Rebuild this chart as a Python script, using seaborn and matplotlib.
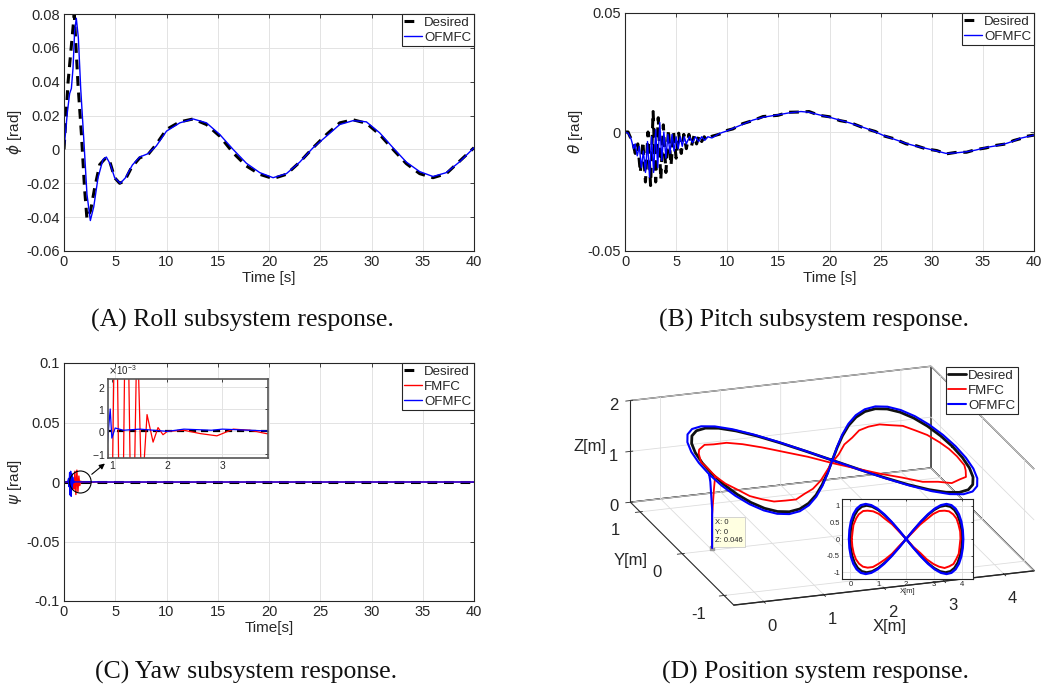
import numpy as np
import pandas as pd
import matplotlib
matplotlib.use("Agg")
import matplotlib.pyplot as plt
import seaborn as sns
from matplotlib import ticker
from matplotlib.patches import Ellipse

# ---------------- data ----------------
roll_des_t = [0, 0.2, 0.4, 0.7, 1.0, 1.37, 1.7, 2.0, 2.24, 2.6, 3.0, 3.48, 4.07, 4.46, 4.94, 5.43,
              5.92, 6.57, 7.38, 8.2, 9.0, 10.0, 11.3, 12.6, 13.9, 15.2, 16.5, 17.8, 19.1, 20.4,
              21.7, 23.0, 24.3, 25.6, 26.9, 28.2, 29.5, 30.8, 32.1, 33.4, 34.7, 36.0, 37.3, 38.6, 40.0]
roll_des = [0, 0.02, 0.04, 0.06, 0.08, 0.038, 0.009, -0.0225, -0.041, -0.036, -0.0225, -0.009, -0.005,
            -0.007, -0.0167, -0.020, -0.0186, -0.0108, -0.005, -0.003, 0.003, 0.0118, 0.0163, 0.018,
            0.0147, 0.0078, -0.002, -0.0098, -0.0147, -0.0172, -0.0147, -0.0075, 0.001, 0.0088,
            0.0157, 0.0175, 0.0155, 0.0088, 0.0, -0.0084, -0.0143, -0.0167, -0.0143, -0.0069, 0.001]
roll_ofmfc_t = [0, 0.33, 0.55, 0.72, 0.88, 1.04, 1.2, 1.4, 1.63, 1.92, 2.24, 2.57, 2.9, 3.32, 3.8,
                4.13, 4.52, 4.94, 5.5, 6.0, 6.67, 7.38, 8.2, 9.0, 10.0, 11.3, 12.6, 13.9, 15.2, 16.5,
                17.8, 19.1, 20.4, 21.7, 23.0, 24.3, 25.6, 26.9, 28.2, 29.5, 30.8, 32.1, 33.4, 34.7,
                36.0, 37.3, 38.6, 40.0]
roll_ofmfc = [0, 0.022, 0.033, 0.036, 0.048, 0.07, 0.0775, 0.066, 0.036, 0.007, -0.0265, -0.042,
              -0.034, -0.0167, -0.006, -0.0045, -0.0088, -0.0167, -0.020, -0.0167, -0.0092, -0.0045,
              -0.0025, 0.002, 0.0108, 0.0157, 0.018, 0.0157, 0.0088, 0.0, -0.0082, -0.0137, -0.0167,
              -0.0143, -0.0075, 0.001, 0.0078, 0.0147, 0.017, 0.0163, 0.0098, 0.001, -0.0075, -0.0131,
              -0.016, -0.0137, -0.0073, 0.001]

pitch_des_t = [0, 0.3, 0.5, 0.75, 1.0, 1.25, 1.5, 1.75, 2.0, 2.25, 2.5, 2.75, 3.0, 3.25, 3.5, 3.75,
               4.0, 4.25, 4.5, 4.75, 5.0, 5.25, 5.5, 5.75, 6.0, 6.25, 6.5, 6.75, 7.0, 7.25, 7.5, 7.75,
               8.0, 8.5, 9.25, 10.0, 10.55, 11.5, 12.5, 13.5, 14.95, 16.0, 17.2, 18.0, 19.0, 20.0,
               21.0, 22.0, 23.6, 24.5, 25.2, 26.3, 27.5, 28.5, 29.45, 30.5, 31.4, 32.3, 33.4, 34.3,
               35.3, 36.3, 37.3, 38.0, 38.6, 39.3, 40.0]
pitch_des = [0, 0.0, -0.002, -0.004, -0.009, -0.005, -0.017, -0.004, -0.021, 0.0, -0.0225, 0.0086,
             -0.021, 0.006, -0.020, 0.003, -0.017, 0.001, -0.014, 0.0, -0.011, -0.0005, -0.009, -0.001,
             -0.007, -0.001, -0.006, -0.0015, -0.005, -0.0015, -0.004, -0.002, -0.0035, -0.0018,
             -0.0009, 0.0007, 0.0013, 0.0035, 0.0048, 0.0065, 0.0070, 0.0083, 0.0084, 0.0086, 0.0070,
             0.0064, 0.0048, 0.0040, 0.0013, 0.0002, -0.0015, -0.0028, -0.0050, -0.0058, -0.0071,
             -0.0078, -0.0092, -0.0086, -0.0085, -0.0074, -0.0067, -0.0056, -0.0050, -0.0036,
             -0.0029, -0.0018, -0.0013]
pitch_ofmfc_t = [0, 0.3, 0.6, 0.85, 1.0, 1.2, 1.4, 1.6, 1.8, 2.0, 2.2, 2.4, 2.6, 2.8, 3.0, 3.2, 3.4,
                 3.6, 3.8, 4.0, 4.2, 4.4, 4.6, 4.8, 5.0, 5.2, 5.4, 5.6, 5.8, 6.0, 6.3, 6.6, 6.9, 7.2,
                 7.5, 7.8, 8.1, 8.5, 9.25, 10.0, 10.55, 11.5, 12.5, 13.5, 14.95, 16.0, 17.2, 18.0,
                 19.0, 20.0, 21.0, 22.0, 23.6, 24.5, 25.2, 26.3, 27.5, 28.5, 29.45, 30.5, 31.4, 32.3,
                 33.4, 34.3, 35.3, 36.3, 37.3, 38.0, 38.6, 39.3, 40.0]
pitch_ofmfc = [0, -0.0005, -0.003, -0.007, -0.005, -0.010, -0.006, -0.015, -0.008, -0.017, -0.004,
               -0.019, -0.002, -0.017, 0.001, -0.015, 0.004, -0.012, 0.0, -0.011, -0.001, -0.009,
               -0.001, -0.008, -0.002, -0.007, -0.002, -0.006, -0.002, -0.005, -0.002, -0.0045,
               -0.002, -0.004, -0.002, -0.0035, -0.002, -0.0025, -0.0006, 0.0005, 0.0015, 0.0032,
               0.005, 0.0062, 0.0072, 0.008, 0.0086, 0.0083, 0.0072, 0.0062, 0.005, 0.0038, 0.0015,
               0.0, -0.0013, -0.003, -0.0048, -0.006, -0.0069, -0.008, -0.009, -0.0088, -0.0083,
               -0.0076, -0.0065, -0.0058, -0.0048, -0.0038, -0.0027, -0.002, -0.0013]

yaw_des_t = [0, 40]
yaw_des = [0, 0]
yaw_fmfc_t = [0, 0.9, 0.98, 1.06, 1.16, 1.255, 1.36, 1.45, 1.535, 1.63, 1.74, 1.83, 1.92, 2.0,
              2.3, 2.6, 2.9, 3.2, 3.5, 3.8, 40]
yaw_fmfc = [0, 0, -0.006, 0.009, -0.0105, 0.010, -0.008, 0.005, -0.003, 0.00075, -0.00048,
            0.00017, -0.00015, 0.0, 0.00005, -0.0001, -0.0002, 0.0001, 0.00005, -0.0001, 0]
yaw_ofmfc_t = [0, 0.35, 0.45, 0.5, 0.55, 0.6, 0.65, 0.7, 0.75, 0.8, 0.85, 0.9, 0.96, 0.99, 1.05,
               1.2, 1.5, 2.0, 2.3, 2.8, 3.0, 3.5, 4.0, 40]
yaw_ofmfc = [0, 0, 0.003, -0.004, 0.008, -0.011, 0.009, -0.012, 0.007, -0.006, 0.004, -0.0008,
             0.001, -0.0003, 0.00015, 0.00005, 0.0001, 0.0, 0.0001, 0.00005, 0.0001, 0.00005, 0, 0]

# figure-eight trajectories (x, y in m); desired flies at a constant altitude
traj_des_x = [4.0, 3.983, 3.932, 3.848, 3.732, 3.587, 3.414, 3.218, 3.0, 2.765, 2.518, 2.261, 2.0,
              1.739, 1.482, 1.235, 1.0, 0.782, 0.586, 0.413, 0.268, 0.152, 0.068, 0.017, 0.0,
              0.017, 0.068, 0.152, 0.268, 0.413, 0.586, 0.782, 1.0, 1.235, 1.482, 1.739, 2.0,
              2.261, 2.518, 2.765, 3.0, 3.218, 3.414, 3.587, 3.732, 3.848, 3.932, 3.983, 4.0]
traj_des_y = [0.0, 0.259, 0.5, 0.707, 0.866, 0.966, 1.0, 0.966, 0.866, 0.707, 0.5, 0.259, 0.0,
              -0.259, -0.5, -0.707, -0.866, -0.966, -1.0, -0.966, -0.866, -0.707, -0.5, -0.259, 0.0,
              0.259, 0.5, 0.707, 0.866, 0.966, 1.0, 0.966, 0.866, 0.707, 0.5, 0.259, 0.0,
              -0.259, -0.5, -0.707, -0.866, -0.966, -1.0, -0.966, -0.866, -0.707, -0.5, -0.259, 0.0]
traj_des_altitude = 1.5

takeoff_ofmfc_x = [0.0, 0.0, -0.03]
takeoff_ofmfc_y = [0.0, 0.0, 0.0]
takeoff_ofmfc_z = [0.046, 0.8, 1.35]
traj_ofmfc_x = [-0.05, -0.032, 0.020, 0.106, 0.225, 0.374, 0.550, 0.752, 0.975, 1.215, 1.469, 1.732,
                2.0, 2.268, 2.531, 2.785, 3.025, 3.248, 3.450, 3.626, 3.775, 3.894, 3.980, 4.032,
                4.05, 4.032, 3.980, 3.894, 3.775, 3.626, 3.450, 3.248, 3.025, 2.785, 2.531, 2.268,
                2.0, 1.732, 1.469, 1.215, 0.975, 0.752, 0.550, 0.374, 0.225, 0.106, 0.020, -0.032,
                -0.05]
traj_ofmfc_y = [0.0, 0.272, 0.525, 0.742, 0.909, 1.014, 1.05, 1.014, 0.909, 0.742, 0.525, 0.272,
                0.0, -0.272, -0.525, -0.742, -0.909, -1.014, -1.05, -1.014, -0.909, -0.742, -0.525,
                -0.272, 0.0, 0.272, 0.525, 0.742, 0.909, 1.014, 1.05, 1.014, 0.909, 0.742, 0.525,
                0.272, 0.0, -0.272, -0.525, -0.742, -0.909, -1.014, -1.05, -1.014, -0.909, -0.742,
                -0.525, -0.272, 0.0]
traj_ofmfc_altitude = 1.5

takeoff_fmfc_x = [0.0, 0.0, 0.03]
takeoff_fmfc_y = [0.0, 0.0, 0.0]
takeoff_fmfc_z = [0.046, 0.7, 1.2]
traj_fmfc_x = [0.05, 0.08, 0.11, 0.21, 0.30, 0.46, 0.62, 0.82, 1.03, 1.25, 1.50, 1.75, 2.01, 2.25,
               2.51, 2.74, 2.98, 3.18, 3.38, 3.55, 3.70, 3.80, 3.89, 3.92, 3.95, 3.94, 3.88, 3.81,
               3.69, 3.54, 3.38, 3.19, 2.97, 2.75, 2.50, 2.26, 2.00, 1.74, 1.50, 1.25, 1.02, 0.81,
               0.62, 0.45, 0.31, 0.20, 0.12, 0.07, 0.05]
traj_fmfc_y = [0.0, 0.23, 0.42, 0.62, 0.74, 0.84, 0.85, 0.83, 0.75, 0.60, 0.44, 0.22, 0.0, -0.23,
               -0.42, -0.61, -0.75, -0.83, -0.87, -0.82, -0.75, -0.60, -0.44, -0.22, 0.01, 0.22,
               0.43, 0.61, 0.74, 0.83, 0.85, 0.84, 0.75, 0.60, 0.43, 0.22, 0.0, -0.22, -0.44, -0.61,
               -0.74, -0.84, -0.86, -0.83, -0.74, -0.61, -0.43, -0.22, 0.0]
traj_fmfc_z = [1.45, 1.42, 1.37, 1.36, 1.33, 1.32, 1.30, 1.32, 1.33, 1.36, 1.37, 1.42, 1.44, 1.49,
               1.51, 1.56, 1.56, 1.60, 1.58, 1.59, 1.56, 1.55, 1.51, 1.50, 1.45, 1.41, 1.39, 1.34,
               1.34, 1.30, 1.32, 1.31, 1.34, 1.35, 1.39, 1.40, 1.46, 1.48, 1.53, 1.54, 1.58, 1.58,
               1.60, 1.58, 1.57, 1.54, 1.53, 1.48, 1.45]
datatip_xyz = [0, 0, 0.046]

yaw_zoom_center = (1.6, 0.0)
yaw_arrow_from = (2.5, 0.005)
yaw_arrow_to = (4.2, 0.017)

# ---------------- style ----------------
sns.set_theme(style="whitegrid")
plt.rcParams.update({
    "font.family": ["Liberation Sans", "DejaVu Sans"],
    "axes.unicode_minus": False,
    "axes.edgecolor": "#262626",
    "axes.linewidth": 0.8,
    "grid.color": "#e3e3e3",
    "grid.linewidth": 0.7,
    "xtick.color": "#262626",
    "ytick.color": "#262626",
    "xtick.labelcolor": "#262626",
    "ytick.labelcolor": "#262626",
    "axes.labelcolor": "#262626",
    "xtick.direction": "in",
    "ytick.direction": "in",
    "xtick.major.size": 3,
    "ytick.major.size": 3,
    "xtick.major.width": 0.6,
    "ytick.major.width": 0.6,
    "xtick.major.pad": 3,
    "ytick.major.pad": 3,
    "axes.facecolor": "white",
})

W, H = 1044, 691
fig = plt.figure(figsize=(W / 100, H / 100), dpi=100)


def rect(l, t, r, b):
    return [l / W, 1 - b / H, (r - l) / W, (b - t) / H]


fmt_g = ticker.FuncFormatter(lambda v, p: "%g" % round(v, 6))
leg_kw = dict(fontsize=9.5, frameon=True, fancybox=False, framealpha=1, edgecolor="#262626",
              borderpad=0.2, labelspacing=0.2, handlelength=1.3, handletextpad=0.2)


def style_ax(ax, fs=10.5):
    ax.tick_params(which="both", top=True, right=True, labelsize=fs, length=3)
    for s in ax.spines.values():
        s.set_visible(True)
        s.set_color("#262626")
        s.set_linewidth(0.8)
    ax.grid(True, color="#e3e3e3", linewidth=0.7)


def fix_dash_handle(leg):
    for h, t in zip(leg.legend_handles, leg.get_texts()):
        if t.get_text() == "Desired":
            h.set_linestyle((0, (3.2, 8)))


def mlegend(ax):
    leg = ax.legend(loc="upper right", borderaxespad=0.0, **leg_kw)
    leg.get_frame().set_linewidth(0.8)
    fix_dash_handle(leg)
    return leg


dash = (0, (3.2, 2.2))

# ---------- (A) Roll ----------
axA = fig.add_axes(rect(64, 14, 474, 251))
sns.lineplot(x=roll_des_t, y=roll_des, ax=axA, color="black", lw=2.2, linestyle=dash,
             sort=False, estimator=None, label="Desired")
sns.lineplot(x=roll_ofmfc_t, y=roll_ofmfc, ax=axA, color="#0000ff", lw=1.0,
             sort=False, estimator=None, label="OFMFC")
axA.set_xlim(0, 40)
axA.set_ylim(-0.06, 0.08)
axA.set_xticks(range(0, 41, 5))
axA.set_yticks([-0.06, -0.04, -0.02, 0, 0.02, 0.04, 0.06, 0.08])
axA.yaxis.set_major_formatter(fmt_g)
axA.set_xlabel("Time [s]", fontsize=11, labelpad=1)
axA.set_ylabel(r"$\phi$ [rad]", fontsize=11, labelpad=2)
style_ax(axA)
mlegend(axA)

# ---------- (B) Pitch ----------
axB = fig.add_axes(rect(625, 13, 1034, 251))
sns.lineplot(x=pitch_des_t, y=pitch_des, ax=axB, color="black", lw=2.2, linestyle=dash,
             sort=False, estimator=None, label="Desired")
sns.lineplot(x=pitch_ofmfc_t, y=pitch_ofmfc, ax=axB, color="#0000ff", lw=1.0,
             sort=False, estimator=None, label="OFMFC")
axB.set_xlim(0, 40)
axB.set_ylim(-0.05, 0.05)
axB.set_xticks(range(0, 41, 5))
axB.set_yticks([-0.05, 0, 0.05])
axB.yaxis.set_major_formatter(fmt_g)
axB.set_xlabel("Time [s]", fontsize=11, labelpad=1)
axB.set_ylabel(r"$\theta$ [rad]", fontsize=11, labelpad=2)
style_ax(axB)
mlegend(axB)

# ---------- (C) Yaw ----------
axC = fig.add_axes(rect(64, 363, 474, 601))
sns.lineplot(x=yaw_des_t, y=yaw_des, ax=axC, color="black", lw=2.2, linestyle=dash,
             sort=False, estimator=None, label="Desired")
sns.lineplot(x=yaw_fmfc_t, y=yaw_fmfc, ax=axC, color="#ff0000", lw=1.0,
             sort=False, estimator=None, label="FMFC")
sns.lineplot(x=yaw_ofmfc_t, y=yaw_ofmfc, ax=axC, color="#0000ff", lw=1.0,
             sort=False, estimator=None, label="OFMFC")
axC.set_xlim(0, 40)
axC.set_ylim(-0.1, 0.1)
axC.set_xticks(range(0, 41, 5))
axC.set_yticks([-0.1, -0.05, 0, 0.05, 0.1])
axC.yaxis.set_major_formatter(fmt_g)
axC.set_xlabel("Time[s]", fontsize=11, labelpad=1)
axC.set_ylabel(r"$\psi$ [rad]", fontsize=11, labelpad=2)
style_ax(axC)
mlegend(axC)
axC.add_patch(Ellipse(yaw_zoom_center, width=2.1, height=0.0185, fill=False,
                      edgecolor="black", lw=0.8, zorder=5))
axC.annotate("", xy=yaw_arrow_to, xytext=yaw_arrow_from,
             arrowprops=dict(arrowstyle="-|>", color="black", lw=0.8, mutation_scale=8))

axCi = fig.add_axes(rect(108, 379, 268, 458))
sns.lineplot(x=yaw_des_t, y=yaw_des, ax=axCi, color="black", lw=1.6, linestyle=dash,
             sort=False, estimator=None)
sns.lineplot(x=yaw_fmfc_t, y=yaw_fmfc, ax=axCi, color="#ff0000", lw=0.9,
             sort=False, estimator=None)
sns.lineplot(x=yaw_ofmfc_t, y=yaw_ofmfc, ax=axCi, color="#0000ff", lw=0.9,
             sort=False, estimator=None)
axCi.set_xlim(0.92, 3.83)
axCi.set_ylim(-1.19e-3, 2.34e-3)
axCi.set_xticks([1, 2, 3])
axCi.set_yticks([-1e-3, 0, 1e-3, 2e-3])
sf = ticker.ScalarFormatter(useMathText=True)
sf.set_powerlimits((-3, -3))
axCi.yaxis.set_major_formatter(sf)
axCi.yaxis.get_offset_text().set_fontsize(7)
axCi.set_xlabel("")
axCi.set_ylabel("")
style_ax(axCi, fs=7.5)
axCi.tick_params(length=2, pad=2)
for s in axCi.spines.values():
    s.set_color("#555555")
    s.set_linewidth(1.2)

# ---------- (D) 3D position ----------
ax3 = fig.add_axes(rect(596, 330, 1060, 650), projection="3d")
ax3.set_proj_type("ortho")
ax3.view_init(elev=19.7, azim=-108.7)
ax3.set_box_aspect((323, 328, 110), zoom=1.41)
ofmfc_x3 = takeoff_ofmfc_x + traj_ofmfc_x
ofmfc_y3 = takeoff_ofmfc_y + traj_ofmfc_y
ofmfc_z3 = takeoff_ofmfc_z + [traj_ofmfc_altitude] * len(traj_ofmfc_x)
fmfc_x3 = takeoff_fmfc_x + traj_fmfc_x
fmfc_y3 = takeoff_fmfc_y + traj_fmfc_y
fmfc_z3 = takeoff_fmfc_z + traj_fmfc_z
ax3.plot(traj_des_x, traj_des_y, [traj_des_altitude] * len(traj_des_x), color="#111111",
         lw=2.0, label="Desired")
ax3.plot(fmfc_x3, fmfc_y3, fmfc_z3, color="#ff0000", lw=1.3, label="FMFC")
ax3.plot(ofmfc_x3, ofmfc_y3, ofmfc_z3, color="#0000ff", lw=1.5, label="OFMFC")
ax3.scatter([datatip_xyz[0]], [datatip_xyz[1]], [datatip_xyz[2]], marker="s", s=10,
            color="#9a9a9a", depthshade=False)
ax3.set_xlim(-0.5, 4.5)
ax3.set_ylim(-1.23, 1.23)
ax3.set_zlim(0, 2)
ax3.set_xticks([0, 1, 2, 3, 4])
ax3.set_yticks([-1, 0, 1])
ax3.set_zticks([0, 1, 2])
ax3.tick_params(labelsize=12, pad=2)
ax3.zaxis.set_tick_params(pad=-3)
for axis in (ax3.xaxis, ax3.yaxis, ax3.zaxis):
    axis.set_pane_color((1, 1, 1, 1))
    axis.pane.set_edgecolor("#333333")
    axis.line.set_color("#262626")
    axis._axinfo["grid"].update({"color": "#dddddd", "linewidth": 0.6})
ax3.grid(True)
h3, l3 = ax3.get_legend_handles_labels()
leg3 = fig.legend(h3, l3, loc="upper right", bbox_to_anchor=(1018 / W, 1 - 367 / H),
                  borderaxespad=0.0, **leg_kw)
leg3.get_frame().set_linewidth(0.8)
lab_kw = dict(fontsize=12, color="#262626", va="center")
fig.text(890 / W, 1 - 627 / H, "X[m]", ha="center", **lab_kw)
fig.text(631 / W, 1 - 561 / H, "Y[m]", ha="center", **lab_kw)
fig.text(606 / W, 1 - 447 / H, "Z[m]", ha="right", **lab_kw)
fig.text(715 / W, 1 - 532 / H, "X: %g\nY: %g\nZ: %g" % tuple(datatip_xyz), fontsize=5.5,
         va="center", ha="left", linespacing=1.4,
         bbox=dict(boxstyle="square,pad=0.3", facecolor="#ffffe1", edgecolor="#cccccc", lw=0.6))

axDi = fig.add_axes(rect(842, 499, 973, 579))
sns.lineplot(x=traj_des_x, y=traj_des_y, ax=axDi, color="#111111", lw=1.6, sort=False,
             estimator=None)
sns.lineplot(x=traj_fmfc_x, y=traj_fmfc_y, ax=axDi, color="#ff0000", lw=1.4,
             sort=False, estimator=None)
sns.lineplot(x=traj_ofmfc_x, y=traj_ofmfc_y, ax=axDi, color="#0000ff", lw=1.7,
             sort=False, estimator=None)
axDi.set_xlim(-0.3, 4.4)
axDi.set_ylim(-1.2, 1.2)
axDi.set_xticks([0, 1, 2, 3, 4])
axDi.set_yticks([-1, -0.5, 0, 0.5, 1])
axDi.yaxis.set_major_formatter(fmt_g)
axDi.set_xlabel("X[m]", fontsize=5.5, labelpad=0)
axDi.set_ylabel("")
style_ax(axDi, fs=5.5)
axDi.tick_params(length=1.5, pad=1.5)

# ---------- captions ----------
cap_kw = dict(fontsize=18.5, family=["Liberation Serif", "DejaVu Serif"], ha="center",
              va="center", color="#111111")
fig.text(242 / W, 1 - 320 / H, "(A) Roll subsystem response.", **cap_kw)
fig.text(814 / W, 1 - 320 / H, "(B) Pitch subsystem response.", **cap_kw)
fig.text(246 / W, 1 - 672 / H, "(C) Yaw subsystem response.", **cap_kw)
fig.text(816 / W, 1 - 672 / H, "(D) Position system response.", **cap_kw)

fig.savefig("out.png", dpi=100)
